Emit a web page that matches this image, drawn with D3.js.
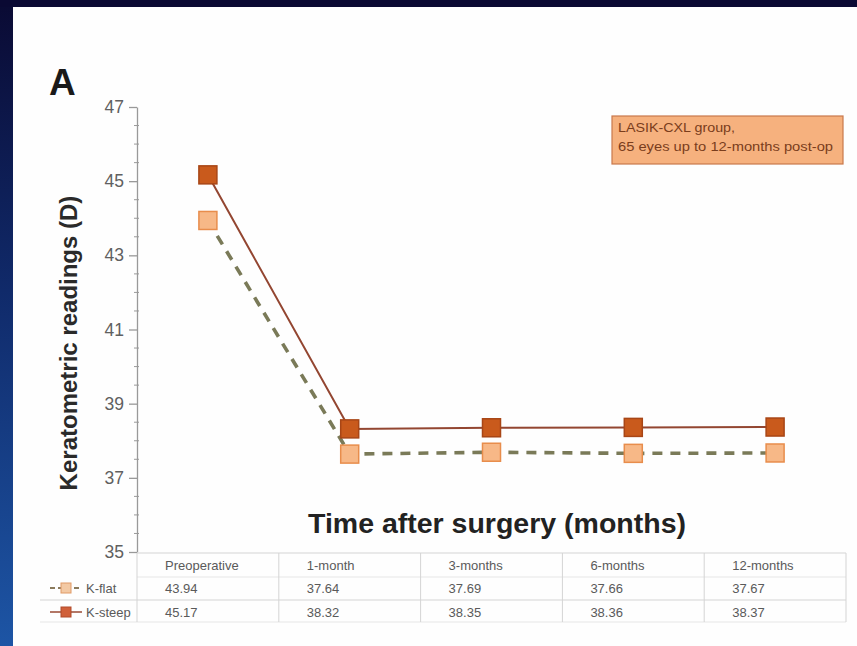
<!DOCTYPE html>
<html>
<head>
<meta charset="utf-8">
<script src="https://cdn.jsdelivr.net/npm/d3@7"></script>
<style>
  html, body { margin: 0; padding: 0; background: #0b0b35; }
  svg { display: block; }
</style>
</head>
<body>
<svg id="chart" width="857" height="646"></svg>
<script>
// Time points after surgery
const categories = ["Preoperative", "1-month", "3-months", "6-months", "12-months"];
// Mean keratometry (D)
const kFlat  = [43.94, 37.64, 37.69, 37.66, 37.67];
const kSteep = [45.17, 38.32, 38.35, 38.36, 38.37];
const seriesNames = ["K-flat", "K-steep"];
const yTicks = [35, 37, 39, 41, 43, 45, 47];
const boxLines = ["LASIK-CXL group,", "65 eyes up to 12-months post-op"];

const svg = d3.select("#chart");
const W = 857, H = 646;

// Slide background: navy gradient strip on the left, dark band on top
const defs = svg.append("defs");
const grad = defs.append("linearGradient").attr("id", "bg").attr("x1", 0).attr("y1", 0).attr("x2", 0).attr("y2", 1);
grad.append("stop").attr("offset", "0%").attr("stop-color", "#0a0a33");
grad.append("stop").attr("offset", "45%").attr("stop-color", "#102a6a");
grad.append("stop").attr("offset", "100%").attr("stop-color", "#1d55a5");
svg.append("rect").attr("width", W).attr("height", H).attr("fill", "url(#bg)");
svg.append("rect").attr("x", 0).attr("y", 0).attr("width", W).attr("height", 7).attr("fill", "#0a0933");
svg.append("rect").attr("x", 13).attr("y", 7).attr("width", W - 13).attr("height", H - 7).attr("fill", "#fefefe");

const plotLeft = 137, plotRight = 846, plotTop = 107, plotBottom = 552;

const x = d3.scaleBand().domain(categories).range([plotLeft, plotRight]).paddingInner(0).paddingOuter(0);
const xc = d => x(d) + x.bandwidth() / 2;
const y = d3.scaleLinear().domain([35, 47]).range([plotBottom, plotTop]);

const sans = "'Liberation Sans', Arial, sans-serif";

// Panel letter
svg.append("text").attr("x", 49).attr("y", 95).attr("font-family", sans)
  .attr("font-weight", "bold").attr("font-size", 37).attr("fill", "#1a1a1a").text("A");

// Y axis with minor ticks
const yAxisG = svg.append("g").attr("transform", `translate(${plotLeft},0)`);
const minor = d3.range(35, 47.01, 0.5).filter(v => v % 2 !== 1);
yAxisG.selectAll("line.minor").data(minor).join("line")
  .attr("x1", -3).attr("x2", 2).attr("y1", d => y(d)).attr("y2", d => y(d))
  .attr("stroke", "#999").attr("stroke-width", 1);
const yAxis = d3.axisLeft(y).tickValues(yTicks).tickSize(8).tickSizeOuter(0).tickFormat(d3.format("d"));
yAxisG.call(yAxis);
yAxisG.select(".domain").attr("stroke", "#999").attr("stroke-width", 1.3);
yAxisG.selectAll(".tick line").attr("stroke", "#999").attr("stroke-width", 1.3);
yAxisG.selectAll(".tick text").attr("font-family", sans).attr("font-size", 17.5)
  .attr("fill", "#606060").attr("x", -13);

// Axis titles
svg.append("text").attr("transform", "translate(77,343) rotate(-90)")
  .attr("text-anchor", "middle").attr("font-family", sans).attr("font-size", 24)
  .attr("font-weight", "bold").attr("fill", "#2a2a2a").text("Keratometric readings (D)");
svg.append("text").attr("x", 497).attr("y", 533).attr("text-anchor", "middle")
  .attr("font-family", sans).attr("font-weight", "bold").attr("font-size", 28.5)
  .attr("fill", "#222").text("Time after surgery (months)");

// Annotation box
const bx = 612, by = 116, bw = 231, bh = 48;
const boxWidths = [117, 215];
svg.append("rect").attr("x", bx).attr("y", by).attr("width", bw).attr("height", bh)
  .attr("fill", "#f6b17e").attr("stroke", "#c9784c").attr("stroke-width", 1.2);
boxLines.forEach((t, i) => {
  svg.append("text").attr("x", bx + 6).attr("y", by + 16 + i * 19)
    .attr("font-family", sans).attr("font-size", 12).attr("fill", "#7a3d1c")
    .attr("textLength", boxWidths[i]).attr("lengthAdjust", "spacingAndGlyphs").text(t);
});

// Series lines
const line = d3.line().x((d, i) => xc(categories[i])).y(d => y(d));
svg.append("path").datum(kFlat).attr("d", line).attr("fill", "none")
  .attr("stroke", "#7a7a58").attr("stroke-width", 3.6).attr("stroke-dasharray", "10,8");
svg.append("path").datum(kSteep).attr("d", line).attr("fill", "none")
  .attr("stroke", "#934631").attr("stroke-width", 2);

// Markers
const ms = 18;
function markers(data, fill, stroke) {
  svg.append("g").selectAll("rect").data(data).join("rect")
    .attr("x", (d, i) => xc(categories[i]) - ms / 2)
    .attr("y", d => y(d) - ms / 2)
    .attr("width", ms).attr("height", ms)
    .attr("fill", fill).attr("stroke", stroke).attr("stroke-width", 1.5);
}
markers(kFlat, "#f7b887", "#e88d4c");
markers(kSteep, "#c95a1c", "#a84616");

// Data table under the plot
const rowY = [565, 588, 612];
const grid = svg.append("g").attr("stroke", "#d4d4d4").attr("stroke-width", 1);
grid.append("line").attr("x1", plotLeft).attr("x2", plotRight).attr("y1", 553).attr("y2", 553);
grid.append("line").attr("x1", plotLeft).attr("x2", plotRight).attr("y1", 577).attr("y2", 577).attr("stroke", "#e6e6e6");
grid.append("line").attr("x1", 40).attr("x2", plotRight).attr("y1", 600).attr("y2", 600);
grid.append("line").attr("x1", 40).attr("x2", plotRight).attr("y1", 622).attr("y2", 622).attr("stroke", "#e6e6e6");
grid.selectAll("line.v").data(categories.concat(["end"])).join("line")
  .attr("x1", (d, i) => i < categories.length ? x(d) : plotRight)
  .attr("x2", (d, i) => i < categories.length ? x(d) : plotRight)
  .attr("y1", 553).attr("y2", 622);

const tbl = svg.append("g").attr("font-family", sans).attr("font-size", 13).attr("fill", "#5a5a5a");
tbl.selectAll("text.h").data(categories).join("text")
  .attr("x", d => x(d) + 28).attr("y", rowY[0] + 5).text(d => d);
[kFlat, kSteep].forEach((vals, r) => {
  tbl.selectAll(null).data(vals).join("text")
    .attr("x", (d, i) => x(categories[i]) + 28).attr("y", rowY[r + 1] + 5)
    .text(d => d.toFixed(2));
});

// Legend keys in the table's row headers
const lg = svg.append("g");
lg.append("line").attr("x1", 50).attr("x2", 82).attr("y1", rowY[1]).attr("y2", rowY[1])
  .attr("stroke", "#8a7a5c").attr("stroke-width", 2).attr("stroke-dasharray", "5,3");
lg.append("rect").attr("x", 61).attr("y", rowY[1] - 5).attr("width", 10).attr("height", 10)
  .attr("fill", "#f3c9a4").attr("stroke", "#e09a66").attr("stroke-width", 1);
lg.append("line").attr("x1", 50).attr("x2", 82).attr("y1", rowY[2]).attr("y2", rowY[2])
  .attr("stroke", "#9a4a33").attr("stroke-width", 1.5);
lg.append("rect").attr("x", 61).attr("y", rowY[2] - 5).attr("width", 10).attr("height", 10)
  .attr("fill", "#d0603a").attr("stroke", "#b04a2a").attr("stroke-width", 1);
seriesNames.forEach((n, i) => {
  lg.append("text").attr("x", 86).attr("y", rowY[i + 1] + 5).attr("font-family", sans)
    .attr("font-size", 13).attr("fill", "#5a5a5a").text(n);
});
</script>
</body>
</html>
